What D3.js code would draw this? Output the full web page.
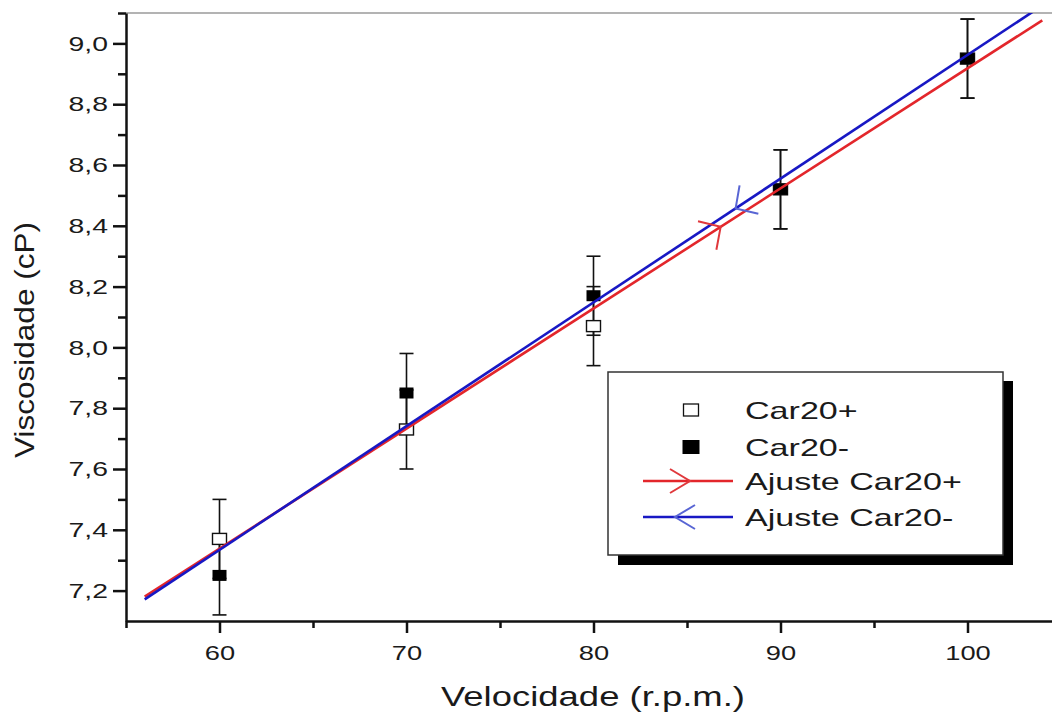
<!DOCTYPE html>
<html>
<head>
<meta charset="utf-8">
<script src="https://cdn.jsdelivr.net/npm/d3@7"></script>
<style>
  body { margin: 0; background: #fff; }
  text { font-family: "Liberation Sans", Arial, sans-serif; fill: #1a1a1a; }
</style>
</head>
<body>
<div class="canvas"></div>
<script>
// data
const velocidade = [60, 70, 80, 90, 100]
const car20Plus = [7.37, 7.73, 8.07, 8.52, 8.95]
const car20Minus = [7.25, 7.85, 8.17, 8.52, 8.95]
const errPlus = [0.13, 0.13, 0.13, 0.13, 0.13]
const errMinus = [0.13, 0.13, 0.13, 0.13, 0.13]

const xTicks = [60, 70, 80, 90, 100]
const xMinor = [55, 65, 75, 85, 95]
const yTicks = [7.2, 7.4, 7.6, 7.8, 8.0, 8.2, 8.4, 8.6, 8.8, 9.0]
const yMinor = [7.3, 7.5, 7.7, 7.9, 8.1, 8.3, 8.5, 8.7, 8.9, 9.1]

const fitRange = [56, 104]
const arrowAt = [86.8, 87.6]   // where the direction arrows sit on each fit line
const seriesNames = ['Car20+', 'Car20-', 'Ajuste Car20+', 'Ajuste Car20-']

const red = '#e3262b'
const blue = '#1818c4'

const W = 1052, H = 713
const plotLeft = 126, plotTop = 13, plotBottom = 621

const svg = d3.select('.canvas').append('svg')
    .attr('width', W)
    .attr('height', H)

const x = d3.scaleLinear().domain([55, 104.5]).range([plotLeft, plotLeft + 18.7 * 49.5])
const y = d3.scaleLinear().domain([7.1, 9.1]).range([plotBottom, plotTop])

const comma = d3.formatLocale({ decimal: ',', thousands: '.', grouping: [3], currency: ['', ''] })

// clip for the fit lines
svg.append('clipPath').attr('id', 'plot')
  .append('rect')
    .attr('x', plotLeft).attr('y', plotTop)
    .attr('width', W - plotLeft).attr('height', plotBottom - plotTop)

// thin gray top frame line
svg.append('line')
    .attr('x1', plotLeft).attr('x2', W)
    .attr('y1', plotTop).attr('y2', plotTop)
    .attr('stroke', '#9a9a9a')
    .attr('stroke-width', 1.5)

// axes
const xAxis = svg.append('g')
    .attr('transform', `translate(0,${plotBottom})`)
    .call(d3.axisBottom(x).tickValues(xTicks).tickSize(12).tickSizeOuter(0).tickPadding(12))
svg.append('g')
    .attr('transform', `translate(0,${plotBottom})`)
    .call(d3.axisBottom(x).tickValues(xMinor).tickSize(7).tickSizeOuter(0).tickFormat(''))
    .select('.domain').remove()

const yAxis = svg.append('g')
    .attr('transform', `translate(${plotLeft},0)`)
    .call(d3.axisLeft(y).tickValues(yTicks).tickSize(13).tickSizeOuter(0).tickPadding(5)
      .tickFormat(comma.format('.1f')))
svg.append('g')
    .attr('transform', `translate(${plotLeft},0)`)
    .call(d3.axisLeft(y).tickValues(yMinor).tickSize(8).tickSizeOuter(0).tickFormat(''))
    .select('.domain').remove()

svg.selectAll('.domain, .tick line')
    .attr('stroke', '#111')
    .attr('stroke-width', 2.5)

xAxis.selectAll('.tick text')
    .style('font-size', '21px')
    .style('transform-box', 'fill-box')
    .style('transform-origin', 'center center')
    .style('transform', 'scaleX(1.3)')
yAxis.selectAll('.tick text')
    .style('font-size', '21px')
    .style('transform-box', 'fill-box')
    .style('transform-origin', 'right center')
    .style('transform', 'scaleX(1.35)')

// axis titles
svg.append('text')
    .attr('x', 593)
    .attr('y', 706)
    .attr('text-anchor', 'middle')
    .attr('textLength', 304)
    .attr('lengthAdjust', 'spacingAndGlyphs')
    .style('font-size', '28px')
    .text('Velocidade (r.p.m.)')

svg.append('text')
    .attr('transform', 'translate(34,340) rotate(-90)')
    .attr('text-anchor', 'middle')
    .attr('textLength', 236)
    .attr('lengthAdjust', 'spacingAndGlyphs')
    .style('font-size', '28px')
    .text('Viscosidade (cP)')

// error bars
const bars = []
velocidade.forEach((v, i) => {
  bars.push({ v, lo: car20Plus[i] - errPlus[i], hi: car20Plus[i] + errPlus[i] })
  bars.push({ v, lo: car20Minus[i] - errMinus[i], hi: car20Minus[i] + errMinus[i] })
})
const eb = svg.append('g').attr('stroke', '#111').attr('stroke-width', 1.6)
bars.forEach(b => {
  eb.append('line').attr('x1', x(b.v)).attr('x2', x(b.v)).attr('y1', y(b.lo)).attr('y2', y(b.hi))
  eb.append('line').attr('x1', x(b.v) - 7).attr('x2', x(b.v) + 7).attr('y1', y(b.lo)).attr('y2', y(b.lo))
  eb.append('line').attr('x1', x(b.v) - 7).attr('x2', x(b.v) + 7).attr('y1', y(b.hi)).attr('y2', y(b.hi))
})

// points
const sqW = 14, sqH = 11
svg.append('g').selectAll('rect')
  .data(velocidade.map((v, i) => [v, car20Plus[i]]))
  .join('rect')
    .attr('x', d => x(d[0]) - sqW / 2)
    .attr('y', d => y(d[1]) - sqH / 2)
    .attr('width', sqW).attr('height', sqH)
    .attr('fill', '#fff')
    .attr('stroke', '#111')
    .attr('stroke-width', 1.4)

svg.append('g').selectAll('rect')
  .data(velocidade.map((v, i) => [v, car20Minus[i]]))
  .join('rect')
    .attr('x', d => x(d[0]) - sqW / 2)
    .attr('y', d => y(d[1]) - sqH / 2)
    .attr('width', sqW).attr('height', sqH)
    .attr('fill', '#000')

// linear fits
function fit(xs, ys) {
  const mx = d3.mean(xs), my = d3.mean(ys)
  const b = d3.sum(xs, (v, i) => (v - mx) * (ys[i] - my)) / d3.sum(xs, v => (v - mx) ** 2)
  return v => my + b * (v - mx)
}
const fits = [
  { f: fit(velocidade, car20Plus), color: red, back: false, at: arrowAt[0], arrowColor: '#e0383c' },
  { f: fit(velocidade, car20Minus), color: blue, back: true, at: arrowAt[1], arrowColor: '#5865d4' }
]

const line = d3.line().x(d => x(d[0])).y(d => y(d[1]))
const fitG = svg.append('g').attr('clip-path', 'url(#plot)')
fits.forEach(ft => {
  fitG.append('path')
      .attr('d', line(fitRange.map(v => [v, ft.f(v)])))
      .attr('fill', 'none')
      .attr('stroke', ft.color)
      .attr('stroke-width', 2.6)
})

// direction arrows on the fit lines
fits.forEach(ft => {
  const x0 = x(ft.at), y0 = y(ft.f(ft.at))
  const x1 = x(ft.at + 1), y1 = y(ft.f(ft.at + 1))
  let ang = Math.atan2(y1 - y0, x1 - x0) * 180 / Math.PI
  if (ft.back) ang += 180
  svg.append('path')
      .attr('transform', `translate(${x0},${y0}) rotate(${ang})`)
      .attr('d', 'M-16,-17L0,0L-16,17')
      .attr('fill', 'none')
      .attr('stroke', ft.arrowColor)
      .attr('stroke-width', 2)
})

// legend
const lg = svg.append('g')
lg.append('rect')
    .attr('x', 618).attr('y', 381)
    .attr('width', 395).attr('height', 184)
    .attr('fill', '#000')
lg.append('rect')
    .attr('x', 608).attr('y', 372)
    .attr('width', 395).attr('height', 183)
    .attr('fill', '#fff')
    .attr('stroke', '#333')
    .attr('stroke-width', 1.5)

const rowY = [410, 447, 481, 517]
const symX = 691
seriesNames.forEach((name, i) => {
  const cy = rowY[i]
  if (i === 0) {
    lg.append('rect').attr('x', symX - 7.5).attr('y', cy - 6).attr('width', 15).attr('height', 12)
      .attr('fill', '#fff').attr('stroke', '#111').attr('stroke-width', 1.3)
  } else if (i === 1) {
    lg.append('rect').attr('x', symX - 8.5).attr('y', cy - 7).attr('width', 17).attr('height', 14)
      .attr('fill', '#000')
  } else {
    const ft = fits[i - 2]
    lg.append('line').attr('x1', 643).attr('x2', 733).attr('y1', cy).attr('y2', cy)
      .attr('stroke', ft.color).attr('stroke-width', 2.4)
    const tip = ft.back ? 675 : 690
    lg.append('path')
        .attr('transform', `translate(${tip},${cy}) rotate(${ft.back ? 180 : 0})`)
        .attr('d', 'M-20,-12L0,0L-20,12')
        .attr('fill', 'none')
        .attr('stroke', ft.arrowColor)
        .attr('stroke-width', 2)
  }
  lg.append('text')
      .attr('x', 745)
      .attr('y', cy + 9)
      .style('font-size', '24px')
      .style('transform-box', 'fill-box')
      .style('transform-origin', 'left center')
      .style('transform', 'scaleX(1.42)')
      .text(name)
})
</script>
</body>
</html>
